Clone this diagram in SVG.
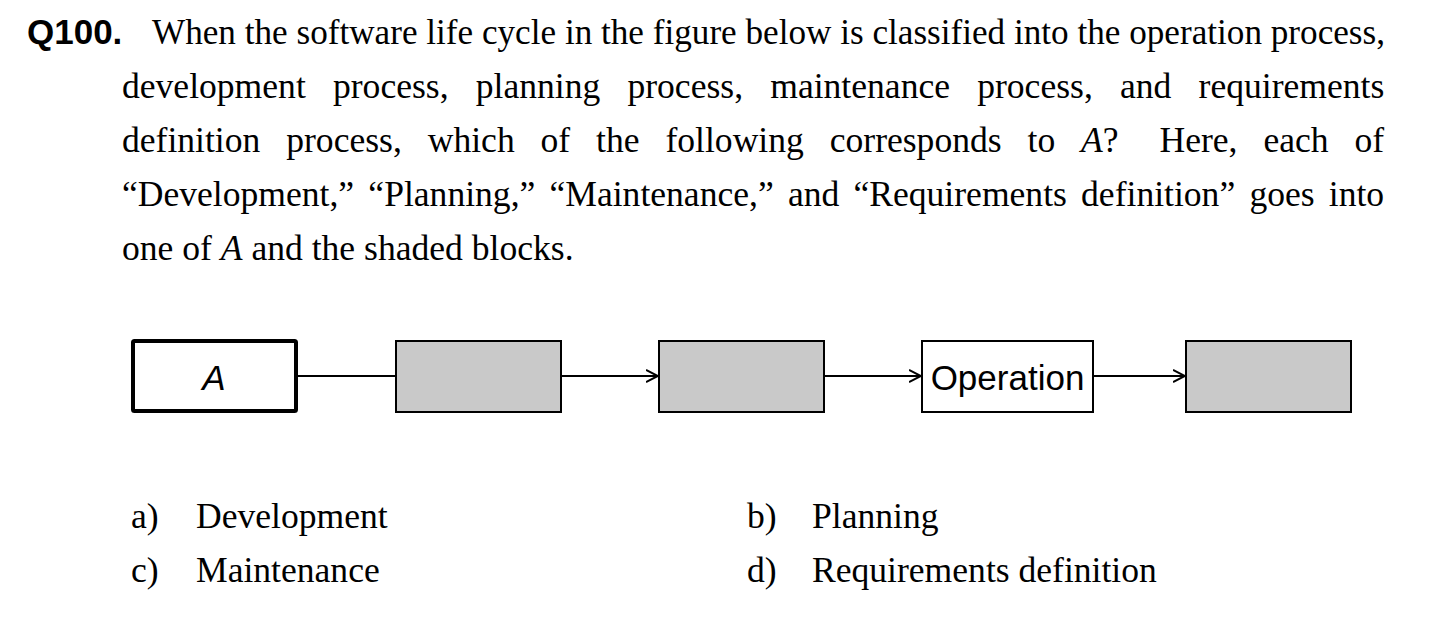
<svg xmlns="http://www.w3.org/2000/svg" width="1450" height="620" viewBox="0 0 1450 620">
<style>
.t{font-family:"Liberation Serif","Times New Roman",serif;font-size:35.6px;fill:#000}
.q{font-family:"Liberation Sans",Arial,sans-serif;font-size:35px;font-weight:bold;fill:#000}
.lbl{font-family:"Liberation Sans",Arial,sans-serif;font-size:35px;fill:#000}
.box{fill:#fff;stroke:#000;stroke-width:2}
.shade{fill:#c9c9c9;stroke:#000;stroke-width:2}
.conn{stroke:#000;stroke-width:2;fill:none}
</style>
<defs>
<marker id="arr" markerWidth="14" markerHeight="14" refX="12" refY="7" orient="auto" markerUnits="userSpaceOnUse">
<path d="M0,1 L12,7 L0,13" fill="none" stroke="#000" stroke-width="2"/>
</marker>
</defs>
<rect width="1450" height="620" fill="#fff"/>
<g id="question">
<text class="q" x="27" y="44">Q100.</text>
<text class="t" x="152" y="44" textLength="1233" lengthAdjust="spacingAndGlyphs">When the software life cycle in the figure below is classified into the operation process,</text>
<text class="t" x="122" y="98" word-spacing="18.3">development process, planning process, maintenance process, and requirements</text>
<text class="t" x="122" y="152" word-spacing="17">definition process, which of the following corresponds to <tspan font-style="italic">A</tspan>? <tspan dx="15">Here,</tspan> each of</text>
<text class="t" x="122" y="206" word-spacing="5.3">“Development,” “Planning,” “Maintenance,” and “Requirements definition” goes into</text>
<text class="t" x="122" y="260">one of <tspan font-style="italic">A</tspan> and the shaded blocks.</text>
</g>
<g id="connectors">
<line class="conn" x1="298" y1="376" x2="395" y2="376"/>
<line class="conn" x1="561" y1="376" x2="658" y2="376" marker-end="url(#arr)"/>
<line class="conn" x1="824" y1="376" x2="921" y2="376" marker-end="url(#arr)"/>
<line class="conn" x1="1093" y1="376" x2="1185" y2="376" marker-end="url(#arr)"/>
</g>
<g id="nodeA">
<rect x="133" y="341" width="163" height="70" rx="1.5" fill="#fff" stroke="#000" stroke-width="4"/>
<text class="lbl" x="214" y="390" text-anchor="middle" font-style="italic">A</text>
</g>
<g id="node2">
<rect class="shade" x="396" y="341" width="165" height="71"/>
</g>
<g id="node3">
<rect class="shade" x="659" y="341" width="165" height="71"/>
</g>
<g id="nodeOperation">
<rect class="box" x="922" y="341" width="171" height="71"/>
<text class="lbl" x="1007.5" y="390" text-anchor="middle">Operation</text>
</g>
<g id="node5">
<rect class="shade" x="1186" y="341" width="165" height="71"/>
</g>
<g id="options">
<text class="t" x="131" y="528">a)</text>
<text class="t" x="196" y="528">Development</text>
<text class="t" x="747" y="528">b)</text>
<text class="t" x="812" y="528">Planning</text>
<text class="t" x="131" y="582">c)</text>
<text class="t" x="196" y="582">Maintenance</text>
<text class="t" x="747" y="582">d)</text>
<text class="t" x="812" y="582">Requirements definition</text>
</g>
</svg>
